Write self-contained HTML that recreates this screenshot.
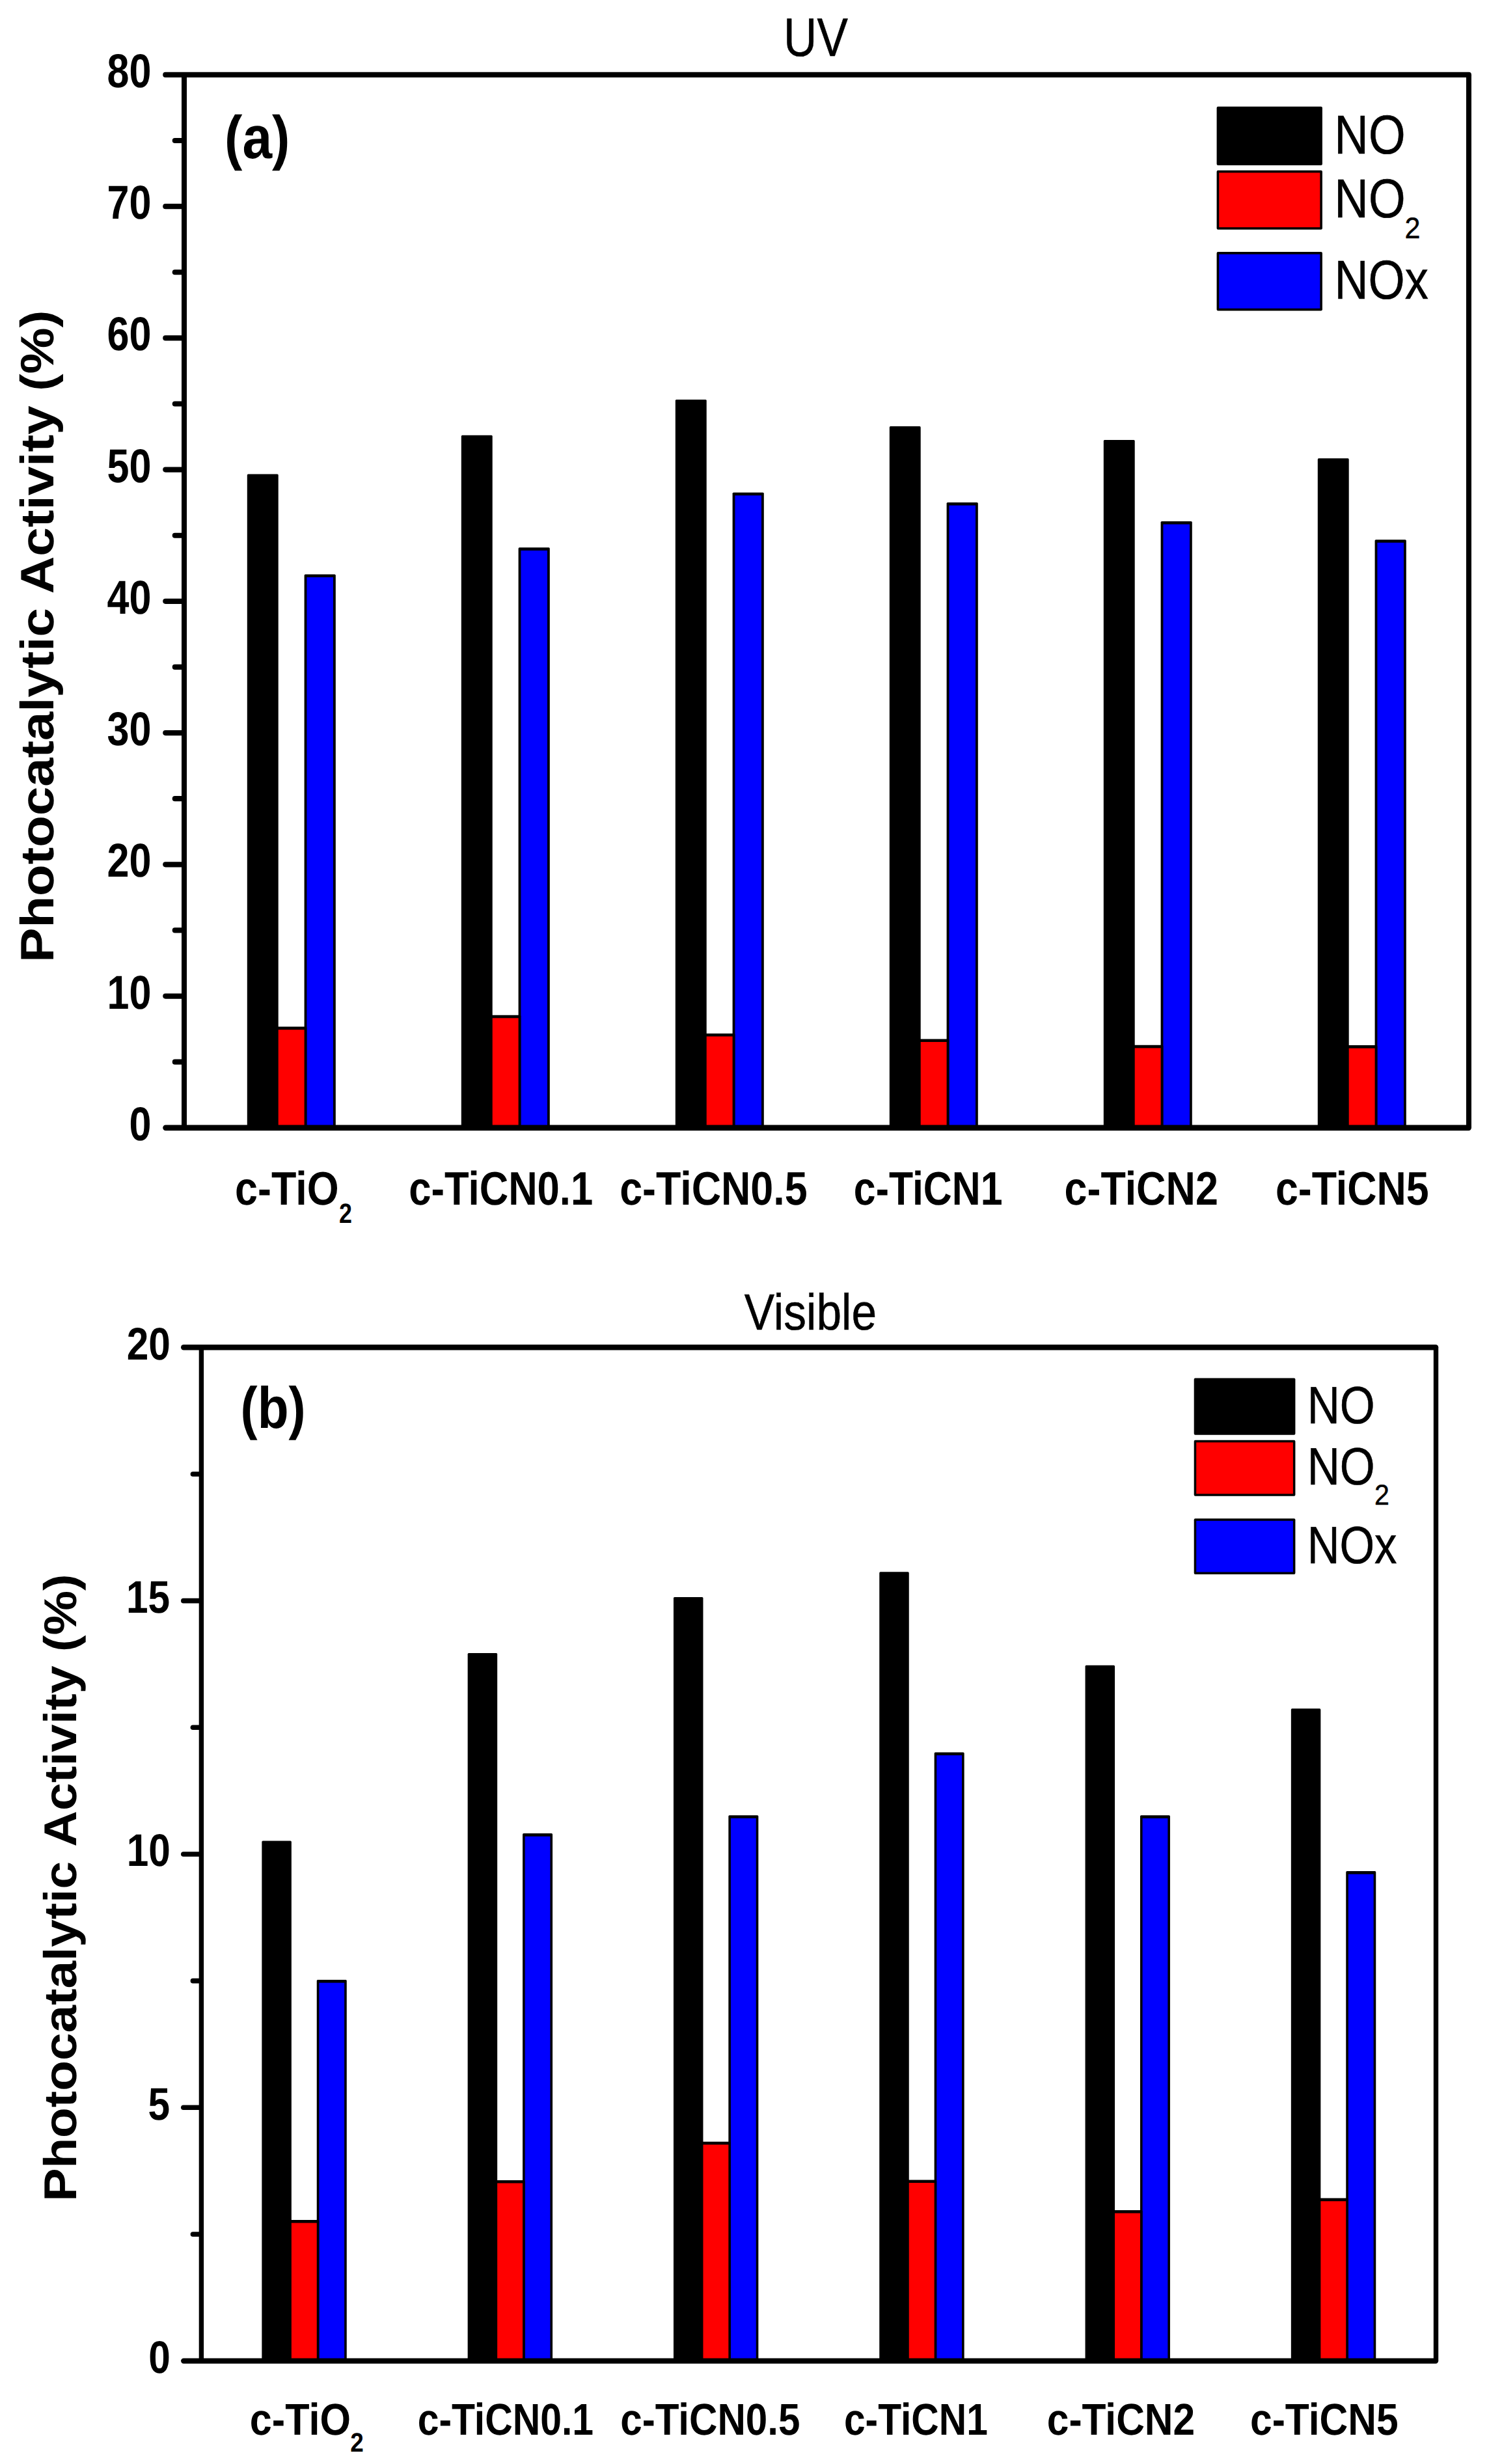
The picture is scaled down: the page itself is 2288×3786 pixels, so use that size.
<!DOCTYPE html>
<html><head><meta charset="utf-8"><title>Photocatalytic Activity</title>
<style>html,body{margin:0;padding:0;background:#fff}svg{display:block}text{text-rendering:geometricPrecision;font-family:"Liberation Sans",sans-serif;fill:#000}</style>
</head><body>
<svg width="2288" height="3786" viewBox="0 0 2288 3786">
<rect width="2288" height="3786" fill="#fff"/>
<rect x="379.80" y="728.40" width="47.90" height="1004.40" rx="1.6" fill="#000"/>
<rect x="467.60" y="882.40" width="48.20" height="850.40" rx="1.6" fill="#000"/>
<rect x="471.40" y="887.00" width="40.60" height="845.80" fill="#0000ff"/>
<rect x="423.90" y="1577.60" width="47.50" height="155.20" rx="1.6" fill="#000"/>
<rect x="427.70" y="1582.20" width="39.90" height="150.60" fill="#ff0000"/>
<rect x="708.80" y="668.80" width="47.90" height="1064.00" rx="1.6" fill="#000"/>
<rect x="796.60" y="841.30" width="48.20" height="891.50" rx="1.6" fill="#000"/>
<rect x="800.40" y="845.90" width="40.60" height="886.90" fill="#0000ff"/>
<rect x="752.90" y="1559.70" width="47.50" height="173.10" rx="1.6" fill="#000"/>
<rect x="756.70" y="1564.30" width="39.90" height="168.50" fill="#ff0000"/>
<rect x="1037.80" y="614.00" width="47.90" height="1118.80" rx="1.6" fill="#000"/>
<rect x="1125.60" y="756.70" width="48.20" height="976.10" rx="1.6" fill="#000"/>
<rect x="1129.40" y="761.30" width="40.60" height="971.50" fill="#0000ff"/>
<rect x="1081.90" y="1587.90" width="47.50" height="144.90" rx="1.6" fill="#000"/>
<rect x="1085.70" y="1592.50" width="39.90" height="140.30" fill="#ff0000"/>
<rect x="1366.80" y="655.10" width="47.90" height="1077.70" rx="1.6" fill="#000"/>
<rect x="1454.60" y="772.00" width="48.20" height="960.80" rx="1.6" fill="#000"/>
<rect x="1458.40" y="776.60" width="40.60" height="956.20" fill="#0000ff"/>
<rect x="1410.90" y="1596.40" width="47.50" height="136.40" rx="1.6" fill="#000"/>
<rect x="1414.70" y="1601.00" width="39.90" height="131.80" fill="#ff0000"/>
<rect x="1695.80" y="676.00" width="47.90" height="1056.80" rx="1.6" fill="#000"/>
<rect x="1783.60" y="801.00" width="48.20" height="931.80" rx="1.6" fill="#000"/>
<rect x="1787.40" y="805.60" width="40.60" height="927.20" fill="#0000ff"/>
<rect x="1739.90" y="1605.80" width="47.50" height="127.00" rx="1.6" fill="#000"/>
<rect x="1743.70" y="1610.40" width="39.90" height="122.40" fill="#ff0000"/>
<rect x="2024.80" y="704.30" width="47.90" height="1028.50" rx="1.6" fill="#000"/>
<rect x="2112.60" y="829.20" width="48.20" height="903.60" rx="1.6" fill="#000"/>
<rect x="2116.40" y="833.80" width="40.60" height="899.00" fill="#0000ff"/>
<rect x="2068.90" y="1606.10" width="47.50" height="126.70" rx="1.6" fill="#000"/>
<rect x="2072.70" y="1610.70" width="39.90" height="122.10" fill="#ff0000"/>
<g fill="none" stroke="#000" stroke-linecap="round">
<line x1="254.25" y1="114.90" x2="2256.90" y2="114.90" stroke-width="8.1"/>
<line x1="254.55" y1="1732.80" x2="2256.60" y2="1732.80" stroke-width="8.7"/>
<line x1="254.30" y1="317.14" x2="282.00" y2="317.14" stroke-width="8.2"/>
<line x1="254.30" y1="519.38" x2="282.00" y2="519.38" stroke-width="8.2"/>
<line x1="254.30" y1="721.61" x2="282.00" y2="721.61" stroke-width="8.2"/>
<line x1="254.30" y1="923.85" x2="282.00" y2="923.85" stroke-width="8.2"/>
<line x1="254.30" y1="1126.09" x2="282.00" y2="1126.09" stroke-width="8.2"/>
<line x1="254.30" y1="1328.33" x2="282.00" y2="1328.33" stroke-width="8.2"/>
<line x1="254.30" y1="1530.56" x2="282.00" y2="1530.56" stroke-width="8.2"/>
<line x1="268.80" y1="216.02" x2="282.00" y2="216.02" stroke-width="8.2"/>
<line x1="268.80" y1="418.26" x2="282.00" y2="418.26" stroke-width="8.2"/>
<line x1="268.80" y1="620.49" x2="282.00" y2="620.49" stroke-width="8.2"/>
<line x1="268.80" y1="822.73" x2="282.00" y2="822.73" stroke-width="8.2"/>
<line x1="268.80" y1="1024.97" x2="282.00" y2="1024.97" stroke-width="8.2"/>
<line x1="268.80" y1="1227.21" x2="282.00" y2="1227.21" stroke-width="8.2"/>
<line x1="268.80" y1="1429.44" x2="282.00" y2="1429.44" stroke-width="8.2"/>
<line x1="268.80" y1="1631.68" x2="282.00" y2="1631.68" stroke-width="8.2"/>
</g>
<g fill="none" stroke="#000" stroke-width="8.0">
<line x1="283.00" y1="114.90" x2="283.00" y2="1732.80"/>
<line x1="2256.95" y1="114.90" x2="2256.95" y2="1732.80"/>
</g>
<text transform="translate(164.51,134.00) scale(0.8371,1)" font-size="73.00" font-weight="bold">80</text>
<text transform="translate(164.51,336.24) scale(0.8371,1)" font-size="73.00" font-weight="bold">70</text>
<text transform="translate(164.51,538.48) scale(0.8371,1)" font-size="73.00" font-weight="bold">60</text>
<text transform="translate(164.51,740.71) scale(0.8371,1)" font-size="73.00" font-weight="bold">50</text>
<text transform="translate(164.51,942.95) scale(0.8371,1)" font-size="73.00" font-weight="bold">40</text>
<text transform="translate(164.51,1145.19) scale(0.8371,1)" font-size="73.00" font-weight="bold">30</text>
<text transform="translate(164.51,1347.42) scale(0.8371,1)" font-size="73.00" font-weight="bold">20</text>
<text transform="translate(164.51,1549.66) scale(0.8371,1)" font-size="73.00" font-weight="bold">10</text>
<text transform="translate(198.43,1751.90) scale(0.8371,1)" font-size="73.00" font-weight="bold">0</text>
<rect x="402.35" y="2828.40" width="45.50" height="799.20" rx="1.6" fill="#000"/>
<rect x="486.75" y="3042.00" width="46.00" height="585.60" rx="1.6" fill="#000"/>
<rect x="490.35" y="3046.60" width="38.80" height="581.00" fill="#0000ff"/>
<rect x="444.25" y="3411.00" width="46.10" height="216.60" rx="1.6" fill="#000"/>
<rect x="447.85" y="3415.60" width="38.90" height="212.00" fill="#ff0000"/>
<rect x="718.65" y="2539.90" width="45.50" height="1087.70" rx="1.6" fill="#000"/>
<rect x="803.05" y="2817.10" width="46.00" height="810.50" rx="1.6" fill="#000"/>
<rect x="806.65" y="2821.70" width="38.80" height="805.90" fill="#0000ff"/>
<rect x="760.55" y="3349.90" width="46.10" height="277.70" rx="1.6" fill="#000"/>
<rect x="764.15" y="3354.50" width="38.90" height="273.10" fill="#ff0000"/>
<rect x="1034.95" y="2454.00" width="45.50" height="1173.60" rx="1.6" fill="#000"/>
<rect x="1119.35" y="2789.20" width="46.00" height="838.40" rx="1.6" fill="#000"/>
<rect x="1122.95" y="2793.80" width="38.80" height="833.80" fill="#0000ff"/>
<rect x="1076.85" y="3290.70" width="46.10" height="336.90" rx="1.6" fill="#000"/>
<rect x="1080.45" y="3295.30" width="38.90" height="332.30" fill="#ff0000"/>
<rect x="1351.25" y="2415.30" width="45.50" height="1212.30" rx="1.6" fill="#000"/>
<rect x="1435.65" y="2692.50" width="46.00" height="935.10" rx="1.6" fill="#000"/>
<rect x="1439.25" y="2697.10" width="38.80" height="930.50" fill="#0000ff"/>
<rect x="1393.15" y="3349.40" width="46.10" height="278.20" rx="1.6" fill="#000"/>
<rect x="1396.75" y="3354.00" width="38.90" height="273.60" fill="#ff0000"/>
<rect x="1667.55" y="2558.80" width="45.50" height="1068.80" rx="1.6" fill="#000"/>
<rect x="1751.95" y="2789.30" width="46.00" height="838.30" rx="1.6" fill="#000"/>
<rect x="1755.55" y="2793.90" width="38.80" height="833.70" fill="#0000ff"/>
<rect x="1709.45" y="3396.00" width="46.10" height="231.60" rx="1.6" fill="#000"/>
<rect x="1713.05" y="3400.60" width="38.90" height="227.00" fill="#ff0000"/>
<rect x="1983.85" y="2625.30" width="45.50" height="1002.30" rx="1.6" fill="#000"/>
<rect x="2068.25" y="2875.10" width="46.00" height="752.50" rx="1.6" fill="#000"/>
<rect x="2071.85" y="2879.70" width="38.80" height="747.90" fill="#0000ff"/>
<rect x="2025.75" y="3377.60" width="46.10" height="250.00" rx="1.6" fill="#000"/>
<rect x="2029.35" y="3382.20" width="38.90" height="245.40" fill="#ff0000"/>
<g fill="none" stroke="#000" stroke-linecap="round">
<line x1="282.25" y1="2070.35" x2="2205.95" y2="2070.35" stroke-width="8.5"/>
<line x1="282.20" y1="3627.60" x2="2206.00" y2="3627.60" stroke-width="8.4"/>
<line x1="281.80" y1="2459.66" x2="308.40" y2="2459.66" stroke-width="7.6"/>
<line x1="281.80" y1="2848.97" x2="308.40" y2="2848.97" stroke-width="7.6"/>
<line x1="281.80" y1="3238.29" x2="308.40" y2="3238.29" stroke-width="7.6"/>
<line x1="296.40" y1="2265.01" x2="308.40" y2="2265.01" stroke-width="7.6"/>
<line x1="296.40" y1="2654.32" x2="308.40" y2="2654.32" stroke-width="7.6"/>
<line x1="296.40" y1="3043.63" x2="308.40" y2="3043.63" stroke-width="7.6"/>
<line x1="296.40" y1="3432.94" x2="308.40" y2="3432.94" stroke-width="7.6"/>
</g>
<g fill="none" stroke="#000" stroke-width="7.4">
<line x1="309.40" y1="2070.35" x2="309.40" y2="3627.60"/>
<line x1="2206.50" y1="2070.35" x2="2206.50" y2="3627.60"/>
</g>
<text transform="translate(194.79,2088.70) scale(0.8590,1)" font-size="70.30" font-weight="bold">20</text>
<text transform="translate(194.03,2478.01) scale(0.8590,1)" font-size="70.30" font-weight="bold">15</text>
<text transform="translate(194.79,2867.32) scale(0.8590,1)" font-size="70.30" font-weight="bold">10</text>
<text transform="translate(227.55,3256.64) scale(0.8590,1)" font-size="70.30" font-weight="bold">5</text>
<text transform="translate(228.30,3645.95) scale(0.8590,1)" font-size="70.30" font-weight="bold">0</text>
<rect x="1869.60" y="163.70" width="162.30" height="90.40" rx="2" fill="#000"/>
<rect x="1869.60" y="261.80" width="162.30" height="91.00" rx="2" fill="#000"/>
<rect x="1873.20" y="265.40" width="155.10" height="83.80" fill="#ff0000"/>
<rect x="1869.60" y="387.10" width="162.30" height="90.40" rx="2" fill="#000"/>
<rect x="1873.20" y="390.70" width="155.10" height="83.20" fill="#0000ff"/>
<rect x="1834.70" y="2117.60" width="155.70" height="87.20" rx="2" fill="#000"/>
<rect x="1834.70" y="2212.80" width="155.70" height="86.00" rx="2" fill="#000"/>
<rect x="1838.20" y="2216.30" width="148.70" height="79.00" fill="#ff0000"/>
<rect x="1834.70" y="2333.30" width="155.70" height="85.70" rx="2" fill="#000"/>
<rect x="1838.20" y="2336.80" width="148.70" height="78.70" fill="#0000ff"/>
<text transform="translate(2050.35,236.25) scale(0.8633,1.0000)" font-size="84.30" font-weight="normal" stroke="#000" stroke-width="0.54">NO</text>
<text transform="translate(2050.35,334.25) scale(0.8633,1.0000)" font-size="84.30" font-weight="normal" stroke="#000" stroke-width="0.54">NO</text>
<text transform="translate(2158.50,365.50) scale(0.9509,1.0000)" font-size="45.30" font-weight="normal" stroke="#000" stroke-width="0.51">2</text>
<text transform="translate(2050.40,459.05) scale(0.8562,1.0000)" font-size="84.30" font-weight="normal" stroke="#000" stroke-width="0.54">NOx</text>
<text transform="translate(2008.64,2187.30) scale(0.8552,1.0000)" font-size="81.00" font-weight="normal" stroke="#000" stroke-width="0.54">NO</text>
<text transform="translate(2008.64,2280.90) scale(0.8552,1.0000)" font-size="81.00" font-weight="normal" stroke="#000" stroke-width="0.54">NO</text>
<text transform="translate(2112.10,2311.80) scale(0.9341,1.0000)" font-size="44.00" font-weight="normal" stroke="#000" stroke-width="0.52">2</text>
<text transform="translate(2008.67,2401.50) scale(0.8503,1.0000)" font-size="81.00" font-weight="normal" stroke="#000" stroke-width="0.54">NOx</text>
<text transform="translate(1204.04,86.05) scale(0.8549,1.0000)" font-size="83.20" font-weight="normal" stroke="#000" stroke-width="0.54">UV</text>
<text transform="translate(1143.80,2042.80) scale(0.8865,1.0000)" font-size="78.30" font-weight="normal" stroke="#000" stroke-width="0.53">Visible</text>
<text transform="translate(345.09,242.50) scale(0.8861,1.0000)" font-size="92.70" font-weight="bold">(a)</text>
<text transform="translate(369.58,2193.80) scale(0.8720,1.0000)" font-size="89.80" font-weight="bold">(b)</text>
<text transform="translate(360.98,1850.90) scale(0.8675,1.0000)" font-size="72.50" font-weight="bold">c-TiO</text>
<text transform="translate(521.05,1878.90) scale(0.8377,1.0000)" font-size="42.80" font-weight="bold">2</text>
<text transform="translate(628.34,1850.90) scale(0.8492,1.0000)" font-size="72.50" font-weight="bold">c-TiCN0.1</text>
<text transform="translate(952.19,1850.90) scale(0.8660,1.0000)" font-size="72.50" font-weight="bold">c-TiCN0.5</text>
<text transform="translate(1311.87,1850.90) scale(0.8386,1.0000)" font-size="72.50" font-weight="bold">c-TiCN1</text>
<text transform="translate(1635.49,1850.90) scale(0.8671,1.0000)" font-size="72.50" font-weight="bold">c-TiCN2</text>
<text transform="translate(1959.89,1850.90) scale(0.8648,1.0000)" font-size="72.50" font-weight="bold">c-TiCN5</text>
<text transform="translate(383.86,3740.60) scale(0.8920,1.0000)" font-size="68.50" font-weight="bold">c-TiO</text>
<text transform="translate(538.31,3767.40) scale(0.8954,1.0000)" font-size="41.20" font-weight="bold">2</text>
<text transform="translate(641.65,3740.60) scale(0.8591,1.0000)" font-size="68.50" font-weight="bold">c-TiCN0.1</text>
<text transform="translate(953.20,3740.60) scale(0.8775,1.0000)" font-size="68.50" font-weight="bold">c-TiCN0.5</text>
<text transform="translate(1296.95,3740.60) scale(0.8575,1.0000)" font-size="68.50" font-weight="bold">c-TiCN1</text>
<text transform="translate(1608.78,3740.60) scale(0.8825,1.0000)" font-size="68.50" font-weight="bold">c-TiCN2</text>
<text transform="translate(1920.98,3740.60) scale(0.8836,1.0000)" font-size="68.50" font-weight="bold">c-TiCN5</text>
<text transform="translate(82.00,1478.68) rotate(-90) scale(0.9933,0.8990)" font-size="80.20" font-weight="bold">Photocatalytic</text>
<text transform="translate(82.00,912.50) rotate(-90) scale(0.9984,0.8990)" font-size="80.20" font-weight="bold">Activity (%)</text>
<text transform="translate(116.80,3382.56) rotate(-90) scale(0.9927,0.9180)" font-size="77.00" font-weight="bold">Photocatalytic</text>
<text transform="translate(116.80,2837.73) rotate(-90) scale(1.0005,0.9180)" font-size="77.00" font-weight="bold">Activity (%)</text>
</svg>
</body></html>
